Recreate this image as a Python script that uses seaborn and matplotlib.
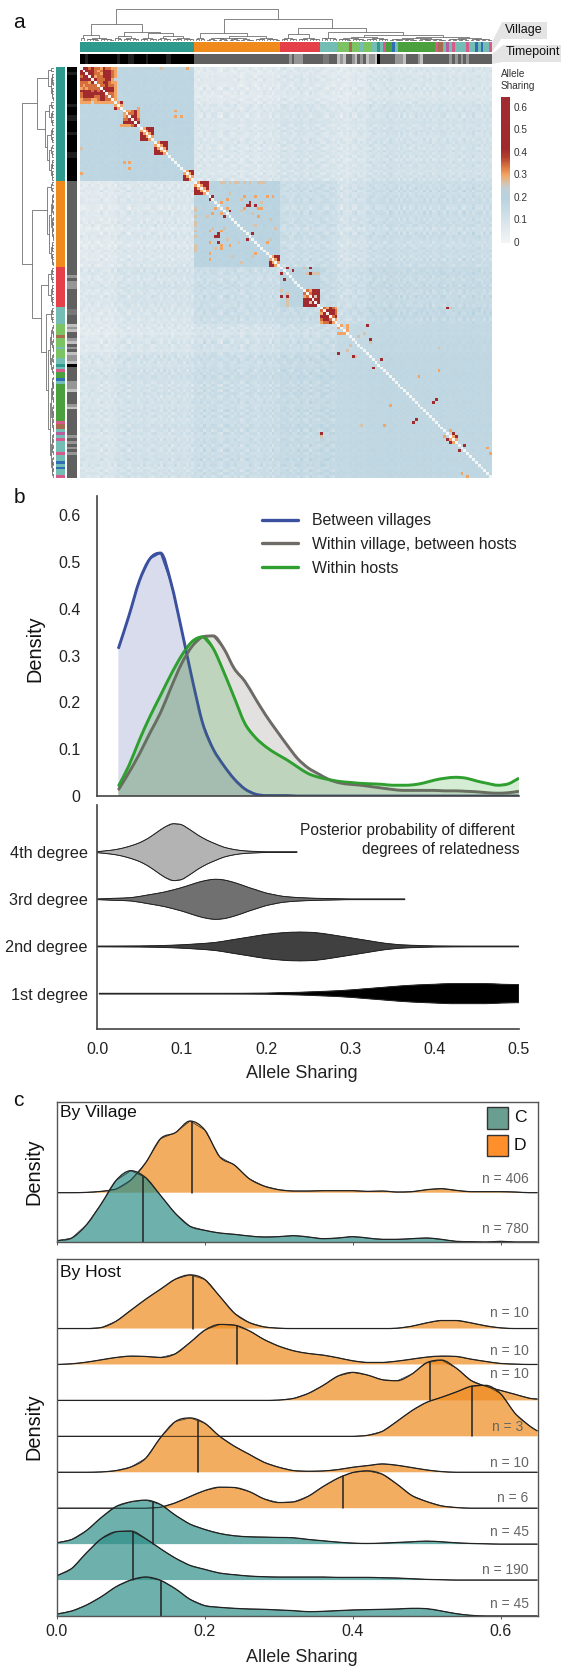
import numpy as np
import matplotlib
matplotlib.use("Agg")
import matplotlib.pyplot as plt
from matplotlib.colors import LinearSegmentedColormap, ListedColormap
from matplotlib.lines import Line2D
from matplotlib.patches import PathPatch, Polygon, Rectangle
from matplotlib.path import Path
import seaborn as sns

# ---------- panel a data ----------
village_palette = ["#2E9A8E", "#F08A1D", "#E5404A", "#74BDB5", "#7CC364", "#A86A50",
                   "#D65A8C", "#4AA03C", "#2F6DB5", "#B85E9E"]
village_codes = [0, 1, 2, 3, 4, 5, 4, 3, 4, 3, 0, 3, 6, 7, 8, 3, 7, 6, 5, 3, 9, 3, 6, 3, 6, 3, 8, 3, 8, 3, 6]
village_counts = [40, 30, 14, 6, 4, 1, 3, 1, 3, 2, 1, 1, 1, 2, 1, 1, 13, 1, 2, 1, 1, 1, 1, 4, 1, 2, 1, 1, 1, 2, 1]
time_palette = ["#000000", "#606060", "#969696", "#C0C0C0", "#1E1E1E", "#787878"]
time_codes = [0, 4, 0, 4, 0, 4, 0, 4, 0, 4, 0,
              1, 2, 1, 2, 1, 5, 1, 3, 2, 3, 1, 2, 3, 1, 2, 1, 3, 2, 3, 0, 1, 2, 3, 1, 2, 3, 1, 2, 1, 2, 1, 2, 1, 2, 1]
time_counts = [2, 1, 10, 1, 3, 2, 4, 1, 6, 2, 8,
               33, 1, 1, 3, 7, 2, 3, 1, 1, 1, 2, 1, 1, 1, 1, 1, 1, 2, 1, 1, 5, 3, 1, 4, 1, 1, 9, 1, 1, 1, 1, 1, 1, 1, 8]
group_sizes = [40, 30, 14, 6, 54]
group_level = [[.190, .095, .110, .100, .120],
               [.095, .190, .130, .130, .130],
               [.110, .130, .185, .140, .145],
               [.100, .130, .140, .200, .155],
               [.120, .130, .145, .155, .170]]
sample_shift = [-5, -5, -6, -5, -4, -5, -6, -5, -4, -5, -6, -5, -4,
                -2, -3, -1, -2, -3, -2, -1, -3, -2, -1, -2, -3, -2, -1, -2, -3, -1, -2, -2, -3, -1, -2, -1, -3, -2, -1, -2,
                0, -1, 0, 1, -1, 0, 0, 1, -1, -2, 0, 1, 0, -1, 0, 1, -2, -1, 0, 1, 0, -1, -2, 0, 1, 0, -1, 0, 1, 0,
                1, 0, 1, 0, -1, 0, 1, 2, 0, -1, 1, 0, 1, 0,
                1, 0, 0, 1, -1, 0,
                -4, -5, -4, -6, -3, -4, -2, -3, -2, -4,
                -1, 0, 1, 0, -1, 1, 0, 1, 2, 1, 0, -1, 1, 0, 1, -1, 0, 1, -1, 0,
                1, 0, 1, -1, 0, 1, 2, 0, 1, -1, 0, 1, 0, -1, 1, 0, 1, 2, 0, 1, -1, 0, 1, 0]
sample_grain = [1, -2, 0, 2, -1, 1, 2, -2, 0, 1, -1, 2,
                -2, 1, 2, 0, -1, -2, 1, 0, 2, -1, 1, -2,
                0, 2, -1, 1, -2, 2, 0, -1, 1, 2, -2, 0,
                1, -1, 2, -2, 0, 1, -2, 2, -1, 0, 2, 1,
                -1, -2, 1, 2, 0, -1, 2, -2, 1, 0, -2, 2,
                1, -1, 0, 2, -2, 1, -1, 2, 0, -2, 1, 2,
                -1, 0, -2, 1, 2, -1, 0, 2, -2, 1, -1, 0,
                2, 1, -2, 0, 1, -1, 2, -2, 0, 1, 2, -1,
                -2, 2, 0, 1, -1, 2, 1, -2, 0, -1, 2, 1,
                -2, 0, 2, -1, 1, -2, 2, 0, -1, 1, 0, 2,
                -1, 1, -2, 2, 0, -1, 1, 2, -2, 0, 1, -1,
                2, 0, -2, 1, -1, 2, 0, 1, -2, 2, -1, 1]
sample_grain_b = [2, 0, -1, 1, -2, 0, 1, 2, -1, -2, 0, 1,
                  -1, 2, 0, -2, 1, 2, -1, 0, 1, -2, 2, 0,
                  1, -1, -2, 2, 0, 1, -1, 2, -2, 1, 0, -1,
                  2, -2, 0, 1, -1, 2, 1, -2, 0, 2, -1, 0,
                  1, 2, -2, -1, 0, 2, 1, -1, -2, 0, 2, 1,
                  0, -2, 2, 1, -1, 0, 2, -2, 1, -1, 0, 2,
                  1, -2, 0, 2, -1, 1, -2, 0, 2, 1, -1, -2,
                  0, 2, 1, -1, -2, 0, 1, 2, -2, 0, -1, 1,
                  2, -1, -2, 0, 1, 2, -2, -1, 1, 0, 2, -2,
                  1, 0, -1, 2, -2, 1, 0, 2, -1, -2, 1, 0,
                  2, -2, 1, 0, -1, 2, 0, -2, 1, -1, 2, 0,
                  -2, 1, 2, -1, 0, -2, 1, 2, 0, -1, 1, -2]
solid_clusters = [(12, 3), (21, 5), (26, 5), (36, 4), (40, 5), (66, 4)]
patterned_clusters = {
    0: ["wrrmrmmormmoo", ".wrrrmomrrrmo", "..wrrmmorrrmo", "...wrommrrrmo", "....wrmmmrro", ".....wmmrrmoo",
        "......wmmrmmo", ".......wrrrro", "........wrrro", ".........wmmo", "..........wmo", "...........wo", "............w"],
    14: ["w.....o", ".woomro", "..wmmro", "...wrro", "....wrm", ".....wr", "......w"],
    78: ["wmorrr", ".wmrrr", "..wrrr", "...wrr", "....wr", ".....w"],
    84: ["wmormo", ".wrrrm", "..wrrm", "...wmr", "....wo", ".....w"],
}
red_pairs = [(45, 46), (47, 59), (48, 58), (48, 59), (48, 61), (50, 52), (58, 60), (70, 72), (71, 74), (70, 80), (72, 80),
             (80, 70), (80, 72), (84, 128), (90, 100), (95, 101), (102, 105), (116, 124), (117, 123), (128, 130),
             (129, 131), (132, 134)]
orange_pairs = [(0, 37), (15, 33), (17, 33), (17, 35), (33, 15), (35, 17), (46, 51), (47, 49), (45, 57), (45, 61), (45, 65),
                (45, 67), (49, 57), (49, 62), (49, 51), (49, 63), (61, 65), (52, 62), (90, 91), (90, 93), (91, 93), (92, 93),
                (106, 125), (108, 118), (127, 129), (129, 130), (130, 131), (133, 142), (135, 143)]
tan_pairs = [(28, 0), (40, 49), (40, 55), (40, 62), (40, 63), (40, 64), (40, 50), (40, 52), (40, 54), (40, 57), (40, 59),
             (44, 52), (46, 56), (47, 63), (50, 56), (51, 60), (53, 66), (55, 61), (56, 68), (60, 66), (72, 79), (72, 81),
             (72, 82), (72, 83), (80, 82), (70, 78), (94, 97), (96, 101), (93, 99), (98, 125), (84, 129)]
cbar_stops = [(0, "#F3F4F4"), (.10, "#D5E3EA"), (.20, "#B7D2DF"), (.24, "#BFD0D8"), (.27, "#DDBFA0"), (.30, "#F2A565"),
              (.34, "#D9743F"), (.38, "#B2402F"), (.42, "#A0292D"), (.65, "#A02C32")]
cbar_ticks = [0, .1, .2, .3, .4, .5, .6]
cbar_labels = ["0", "0.1", "0.2", "0.3", "0.4", "0.5", "0.6"]

# ---------- panel b data ----------
b_x = [.025, .0375, .05, .0625, .075, .0875, .10, .1125, .125, .1375, .15, .1625, .175, .1875, .20, .2125, .225, .2375,
       .25, .2625, .275, .2875, .30, .3125, .325, .3375, .35, .3625, .375, .3875, .40, .4125, .425, .4375, .45, .4625,
       .475, .4875, .50]
b_between = [.315, .385, .46, .507, .519, .455, .355, .25, .155, .10, .065, .036, .015, .004, .001, .001, .001, 0, 0, 0, 0, 0,
             0, 0, 0, 0, 0, 0, 0, 0, 0, 0, 0, 0, 0, 0, 0, 0, 0]
b_within_village = [.013, .05, .09, .135, .178, .232, .283, .32, .34, .342, .315, .272, .245, .208, .172, .14, .109, .08,
                    .06, .047, .035, .028, .025, .023, .02, .017, .014, .012, .012, .012, .012, .011, .011, .01, .009, .007,
                    .006, .007, .01]
b_within_host = [.021, .065, .12, .17, .215, .26, .30, .33, .34, .315, .265, .21, .155, .125, .105, .09, .077, .062,
                 .048, .04, .035, .031, .029, .027, .026, .025, .023, .023, .024, .028, .034, .038, .04, .038, .032, .027,
                 .023, .026, .038]
b_names = ["Between villages", "Within village, between hosts", "Within hosts"]
b_colors = ["#3C50A0", "#6E6A66", "#2FA02F"]
degree_names = ["4th degree", "3rd degree", "2nd degree", "1st degree"]
degree_colors = ["#B3B3B3", "#707070", "#404040", "#000000"]
deg4_x = [0, .01, .02, .03, .04, .05, .06, .07, .08, .09, .10, .11, .12, .13, .14, .15, .16, .17, .18, .19, .20, .237]
deg4_w = [1.5, 4, 7, 12, 19, 28, 41, 58, 75, 85, 82, 67, 50, 36, 25, 15, 9, 5, 3, 2, 1, 1]
deg3_x = [0, .02, .04, .06, .08, .10, .11, .12, .13, .14, .15, .16, .17, .18, .19, .20, .22, .24, .26, .28, .30, .365]
deg3_w = [1, 3, 5, 13, 22, 35, 43, 51, 57, 60, 58, 52, 44, 35, 27, 19, 9, 5, 3, 2, 1, 1]
deg2_x = [0, .05, .08, .10, .12, .14, .16, .18, .20, .22, .24, .26, .28, .30, .32, .34, .36, .38, .40, .44, .50]
deg2_w = [1, 1.5, 3, 5, 8, 12, 20, 28, 36, 41, 43, 41, 34, 26, 18, 10, 5, 3, 1.5, 1, 1]
deg1_x = [.002, .15, .20, .22, .24, .26, .28, .30, .32, .34, .36, .38, .40, .42, .44, .46, .48, .50]
deg1_w = [1, 1, 1.5, 3, 4, 6, 8, 11, 15, 19, 23, 26, 28, 30, 30, 30, 28, 27]

# ---------- panel c data ----------
ridge_x = [0, .02, .04, .06, .08, .10, .12, .14, .16, .18, .20, .22, .24, .26, .28, .30, .32, .34, .36, .38, .40, .42, .44,
           .46, .48, .50, .52, .54, .56, .58, .60, .62, .64, .65]
village_D = [0, 0, 1, 4, 11, 38, 90, 162, 180, 215, 188, 108, 83, 42, 20, 9, 5, 5, 6, 6, 6, 4, 5, 2, 3, 9, 12, 7, 3, 3, 3, 2, 0, 0]
village_C = [4, 12, 52, 115, 185, 214, 193, 140, 86, 47, 35, 27, 23, 18, 15, 16, 19, 15, 10, 12, 16, 12, 8, 8, 10, 12, 8, 2, 1, 0, 2, 0, 0, 0]
village_medians = [.183, .117]
village_n = ["n = 406", "n = 780"]
host_curves = [
    [0, 0, 0, 3, 22, 55, 88, 118, 148, 161, 147, 97, 46, 18, 5, 1, 0, 0, 0, 0, 0, 0, 0, 1, 7, 17, 24, 24, 17, 8, 2, 0, 0, 0],
    [0, 2, 7, 14, 21, 25, 24, 21, 32, 66, 103, 120, 118, 101, 75, 55, 41, 33, 28, 20, 11, 6, 6, 10, 16, 22, 25, 24, 16, 9, 3, 1, 0, 0],
    [0, 0, 0, 0, 0, 0, 0, 0, 0, 0, 0, 0, 0, 0, 0, 1, 6, 21, 45, 73, 84, 76, 62, 59, 79, 113, 121, 97, 60, 42, 30, 18, 6, 4],
    [0, 0, 0, 0, 0, 0, 0, 0, 0, 0, 0, 0, 0, 0, 0, 0, 0, 0, 0, 0, 0, 3, 15, 45, 77, 102, 117, 133, 150, 153, 128, 68, 30, 16],
    [0, 0, 0, 1, 5, 16, 42, 104, 152, 163, 147, 108, 78, 54, 30, 15, 5, 3, 4, 8, 15, 20, 25, 21, 14, 7, 2, 0, 0, 0, 0, 0, 0, 0],
    [0, 0, 0, 0, 0, 0, 0, 3, 16, 35, 53, 63, 62, 50, 28, 17, 19, 36, 65, 90, 107, 112, 102, 72, 38, 20, 7, 2, 0, 0, 0, 0, 0, 0],
    [4, 14, 41, 80, 113, 127, 132, 119, 87, 60, 44, 32, 25, 22, 21, 20, 19, 14, 10, 6, 3, 2, 3, 5, 7, 9, 7, 4, 2, 1, 0, 0, 0, 0],
    [13, 35, 82, 124, 145, 147, 124, 94, 66, 44, 32, 21, 16, 12, 10, 9, 9, 9, 9, 8, 8, 8, 7, 6, 4, 2, 1, 0, 0, 0, 0, 0, 0, 0],
    [6, 15, 33, 58, 88, 108, 117, 107, 82, 50, 31, 26, 23, 21, 20, 18, 16, 13, 14, 16, 18, 19, 20, 21, 23, 22, 15, 7, 2, 0, 0, 0, 0, 0],
]
host_species = ["D", "D", "D", "D", "D", "D", "C", "C", "C"]
host_medians = [.184, .243, .505, .562, .191, .387, .13, .103, .141]
host_n = ["n = 10", "n = 10", "n = 10", "n = 3", "n = 10", "n = 6", "n = 45", "n = 190", "n = 45"]
host_n_ypx = [1313, 1351, 1373.7, 1427, 1462.7, 1498, 1532, 1570, 1604]
species_colors = {"C": "#2F8F89", "D": "#EE8A1D"}

# ---------- layout ----------
sns.set_theme(style="white")
plt.rcParams["font.family"] = ["Liberation Sans", "DejaVu Sans"]
W, H = 563, 1666
fig = plt.figure(figsize=(W / 100, H / 100), dpi=100, facecolor="white")


def box(x0, y0, x1, y1, **kw):
    return fig.add_axes([x0 / W, 1 - y1 / H, (x1 - x0) / W, (y1 - y0) / H], **kw)


def bare(ax):
    ax.set_xticks([]); ax.set_yticks([]); ax.set_xlabel(""); ax.set_ylabel("")
    for s in ax.spines.values():
        s.set_visible(False)
    ax.patch.set_alpha(0)


overlay = box(0, 0, W, H)
overlay.set_xlim(0, W); overlay.set_ylim(H, 0); bare(overlay)


def label(x, y, s, size, **kw):
    kw.setdefault("va", "center"); kw.setdefault("ha", "left"); kw.setdefault("color", "#111111")
    overlay.text(x, y, s, fontsize=size, **kw)


def curve_segments(x, y):
    """Bezier handles through the read points, with no overshoot past them."""
    x, y = np.asarray(x, float), np.asarray(y, float)
    dx = np.diff(x); d = np.diff(y) / dx
    m = np.zeros_like(y)
    m[0], m[-1] = d[0], d[-1]
    for i in range(1, len(y) - 1):
        if d[i - 1] * d[i] > 0:
            m[i] = np.sign(d[i]) * min(abs((y[i + 1] - y[i - 1]) / (x[i + 1] - x[i - 1])),
                                       3 * min(abs(d[i - 1]), abs(d[i])))
    verts = []
    for i in range(len(x) - 1):
        verts += [(x[i] + dx[i] / 3, y[i] + m[i] * dx[i] / 3),
                  (x[i + 1] - dx[i] / 3, y[i + 1] - m[i + 1] * dx[i] / 3),
                  (x[i + 1], y[i + 1])]
    return verts


def curve_path(x, y):
    verts = [(x[0], y[0])] + curve_segments(x, y)
    return Path(verts, [Path.MOVETO] + [Path.CURVE4] * (len(verts) - 1))


def area_path(x, top, bottom):
    x = list(x); rx = x[::-1]
    top = list(top); rb = list(bottom)[::-1]
    verts = [(x[0], top[0])] + curve_segments(x, top) + [(rx[0], rb[0])] + curve_segments(rx, rb) + [(x[0], top[0])]
    codes = [Path.MOVETO] + [Path.CURVE4] * (3 * (len(x) - 1)) + [Path.LINETO] + [Path.CURVE4] * (3 * (len(x) - 1)) + [Path.LINETO]
    return Path(verts, codes)


def draw_curve(ax, x, y, color, lw):
    # the read points go through seaborn; the stroke over them rounds the joins
    sns.lineplot(x=list(x), y=list(y), ax=ax, color=color, lw=lw * .5, sort=False, errorbar=None, legend=False)
    ax.add_patch(PathPatch(curve_path(list(x), list(y)), fc="none", ec=color, lw=lw, capstyle="butt"))


# ---------- panel a ----------
N = 144
hm_x0, hm_x1, hm_y0, hm_y1 = 79.7, 492, 66.7, 478
village = np.repeat(village_codes, village_counts)
timepoint = np.repeat(time_codes, time_counts)
groups = np.repeat(np.arange(len(group_sizes)), group_sizes)
shift = np.array(sample_shift, float)
grain = np.array(sample_grain, float)
grain_b = np.array(sample_grain_b, float)
levels = np.array(group_level)[groups][:, groups]
same = groups[:, None] == groups[None, :]
texture = np.outer(grain, grain_b) + np.outer(grain_b, grain)
M = levels + .0065 * (shift[:, None] + shift[None, :]) * np.where(same, .3, 1) + .0055 * texture * np.where(same, .2, 1)
M = np.clip(M, .02, .24)
tone = {"w": .03, "o": .30, "m": .345, "r": .47, "t": .265}
for start, size in solid_clusters:
    M[start:start + size, start:start + size] = tone["r"]
    for k in range(size - 1):
        M[start + k, start + k + 1] = M[start + k + 1, start + k] = tone["o"]
for start, rows in patterned_clusters.items():
    for i, row in enumerate(rows):
        for j, ch in enumerate(row[:len(rows)]):
            if ch != ".":
                M[start + i, start + j] = M[start + j, start + i] = tone[ch]
for pairs, key in ((tan_pairs, "t"), (orange_pairs, "o"), (red_pairs, "r")):
    for i, j in pairs:
        M[i, j] = M[j, i] = tone[key]
M[np.arange(N), np.arange(N)] = 0

cmap = LinearSegmentedColormap.from_list("share", [(v / .65, c) for v, c in cbar_stops])
ax_hm = box(hm_x0, hm_y0, hm_x1, hm_y1)
sns.heatmap(M, ax=ax_hm, cmap=cmap, vmin=0, vmax=.65, cbar=False, xticklabels=False, yticklabels=False)
vill_cm, time_cm = ListedColormap(village_palette), ListedColormap(time_palette)
for pos, codes, cm, n in (((hm_x0, 42.3, hm_x1, 52.3), village, vill_cm, 9), ((hm_x0, 54, hm_x1, 64), timepoint, time_cm, 5)):
    sns.heatmap(codes[None, :], ax=box(*pos), cmap=cm, vmin=-.5, vmax=n + .5, cbar=False, xticklabels=False, yticklabels=False)
for pos, codes, cm, n in (((55.6, hm_y0, 65.3, hm_y1), village, vill_cm, 9), ((67, hm_y0, 76.8, hm_y1), timepoint, time_cm, 5)):
    sns.heatmap(codes[:, None], ax=box(*pos), cmap=cm, vmin=-.5, vmax=n + .5, cbar=False, xticklabels=False, yticklabels=False)


def C(n, h):
    if n == 1:
        return 1
    a = n // 2
    return (h, C(a, h * .72), C(n - a, h * .72))


dendro = (100,
          (52.6,
           (18, C(2, 8), C(10, 9)),
           (28, (16, C(3, 8), C(6, 9)), (23, C(6, 9), (16, C(5, 9), C(8, 9))))),
          (68,
           (23, C(4, 9), (15, C(17, 10), C(9, 9))),
           (41,
            (20, C(6, 9), C(8, 9)),
            (26, C(6, 10), (18, (12, C(10, 8), C(8, 8)), (13, C(20, 9), C(16, 9)))))))
segments = []


def walk(node, left):
    if isinstance(node, int):
        return left + .5, 0, left + node
    h, a, b = node
    xa, ha, next_left = walk(a, left)
    xb, hb, end = walk(b, next_left)
    segments.append(((xa, xa, xb, xb), (ha, h, h, hb)))
    return (xa + xb) / 2, h, end


walk(dendro, 0)
ax_top = box(hm_x0, 9, hm_x1, 40.7)
ax_left = box(21.5, hm_y0, 54, hm_y1)
for xs, hs in segments:
    ax_top.plot(xs, hs, color="#707070", lw=.6)
    ax_left.plot(hs, xs, color="#707070", lw=.6)
ax_top.set_xlim(0, N); ax_top.set_ylim(0, 100); bare(ax_top)
ax_left.set_ylim(N, 0); ax_left.set_xlim(100, 0); bare(ax_left)

ax_cb = box(501, 96.5, 510, 242.7)
levels_cb = np.linspace(.65, 0, 200)[:, None]
sns.heatmap(levels_cb, ax=ax_cb, cmap=cmap, vmin=0, vmax=.65, cbar=False, xticklabels=False, yticklabels=False)
for v, s in zip(cbar_ticks, cbar_labels):
    label(514, 242.7 - v / .65 * 146.2, s, 7.2, color="#333333")
label(501, 74, "Allele", 7.2, color="#333333")
label(501, 85.7, "Sharing", 7.2, color="#333333")

overlay.add_patch(Polygon([(492, 42), (502, 22), (502, 38), (492, 52)], fc="#E4E4E4", ec="none", zorder=0))
overlay.add_patch(Polygon([(492, 54), (503, 45), (503, 62), (492, 64)], fc="#E4E4E4", ec="none", zorder=0))
overlay.add_patch(Rectangle((502, 22), 44.5, 16.5, fc="#E4E4E4", ec="none", zorder=0))
overlay.add_patch(Rectangle((503, 45), 58, 16.7, fc="#E4E4E4", ec="none", zorder=0))
label(524, 30, "Village", 9, ha="center")
label(533, 52, "Timepoint", 9, ha="center")
label(13.5, 22, "a", 15)

# ---------- panel b ----------
ax_b = box(97.3, 495.7, 518.9, 796)
for ys, col in zip((b_between, b_within_village, b_within_host), b_colors):
    ax_b.add_patch(PathPatch(area_path(b_x, ys, [0] * len(ys)), fc=col, ec="none", alpha=.2))
    draw_curve(ax_b, b_x, ys, col, 2.1)
ax_b.set_xlim(0, .5); ax_b.set_ylim(0, .6415)
ax_b.set_xticks([]); ax_b.set_yticks([0, .1, .2, .3, .4, .5, .6])
ax_b.set_yticklabels(["0", "0.1", "0.2", "0.3", "0.4", "0.5", "0.6"], fontsize=11.5, color="#222222")
ax_b.tick_params(axis="y", length=0, pad=12)
ax_b.set_xlabel(""); ax_b.set_ylabel("")
sns.despine(ax=ax_b)
for s in ("left", "bottom"):
    ax_b.spines[s].set_color("#444444"); ax_b.spines[s].set_linewidth(1.2)
handles = [Line2D([0], [0], color=c, lw=2.4) for c in b_colors]
ax_b.legend(handles, b_names, loc="upper left", bbox_to_anchor=(.372, .968), frameon=False, fontsize=11.4, labelspacing=.55,
            handlelength=2.3, handletextpad=.85, borderpad=0, labelcolor="#222222")
label(35, 649, "Density", 14.3, rotation=90, ha="center")
label(13.5, 497, "b", 15)

ax_v = box(97.3, 805, 518.9, 1029)
for k, (xs, ws, col) in enumerate(zip((deg4_x, deg3_x, deg2_x, deg1_x), (deg4_w, deg3_w, deg2_w, deg1_w), degree_colors)):
    half = np.array(ws) / 141
    ax_v.add_patch(PathPatch(area_path(xs, k - half, k + half), fc=col, ec="none"))
    draw_curve(ax_v, xs, k - half, "#222222", .7)
    draw_curve(ax_v, xs, k + half, "#222222", .7)
ax_v.set_xlim(0, .5); ax_v.set_ylim(3.75, -1)
ax_v.set_xticks([0, .1, .2, .3, .4, .5]); ax_v.set_xticklabels(["0.0", "0.1", "0.2", "0.3", "0.4", "0.5"], fontsize=11.5, color="#222222")
ax_v.set_yticks(range(4)); ax_v.set_yticklabels(degree_names, fontsize=11.7, color="#222222")
ax_v.tick_params(axis="x", length=0, pad=9); ax_v.tick_params(axis="y", length=0, pad=7)
ax_v.set_xlabel(""); ax_v.set_ylabel("")
sns.despine(ax=ax_v)
for s in ("left", "bottom"):
    ax_v.spines[s].set_color("#444444"); ax_v.spines[s].set_linewidth(1.2)
label(515, 830, "Posterior probability of different", 11.2, ha="right", color="#222222")
label(519, 849, "degrees of relatedness", 11.2, ha="right", color="#222222")
label(301.6, 1073, "Allele Sharing", 13, ha="center", color="#222222")
label(13.5, 1100, "c", 15)


# ---------- panel c ----------
def ridge(ax, ys, base, col, median):
    ys = np.array(ys, float)
    ax.add_patch(PathPatch(area_path(ridge_x, base + ys, [base] * len(ys)), fc=col, ec="none", alpha=.7))
    draw_curve(ax, ridge_x, base + ys, "#222222", .9)
    ax.plot([median, median], [base, base + np.interp(median, ridge_x, ys)], color="#222222", lw=1.1)


ax_c1 = box(57, 1102, 537.5, 1242)
ridge(ax_c1, village_D, 147.9, species_colors["D"], village_medians[0])
ridge(ax_c1, village_C, 0, species_colors["C"], village_medians[1])
ax_c1.set_xlim(0, .65); ax_c1.set_ylim(0, 420)
ax_c1.set_xticks([0, .2, .4, .6]); ax_c1.set_xticklabels([]); ax_c1.set_yticks([])
ax_c1.tick_params(axis="x", length=2.5, width=.7, color="#555555", bottom=True)

ax_c2 = box(57, 1259, 537.5, 1616)
n_host = len(host_curves)
for k, (ys, sp, med) in enumerate(zip(host_curves, host_species, host_medians)):
    ridge(ax_c2, ys, (n_host - 1 - k) * 107.8, species_colors[sp], med)
ax_c2.set_xlim(0, .65); ax_c2.set_ylim(0, 1071)
ax_c2.set_xticks([0, .2, .4, .6]); ax_c2.set_xticklabels(["0.0", "0.2", "0.4", "0.6"], fontsize=11.5, color="#222222")
ax_c2.set_yticks([])
ax_c2.tick_params(axis="x", length=2.5, width=.7, color="#555555", bottom=True, pad=3.5)
for ax in (ax_c1, ax_c2):
    ax.set_xlabel(""); ax.set_ylabel("")
    for s in ax.spines.values():
        s.set_color("#555555"); s.set_linewidth(1)

overlay.set_zorder(10)
overlay.add_patch(Rectangle((487, 1107), 21, 21.7, fc="#6A9E91", ec="#333333", lw=1))
overlay.add_patch(Rectangle((487, 1135), 21, 21, fc="#FF8F2B", ec="#333333", lw=1))
label(514, 1117.5, "C", 12.6)
label(514, 1146, "D", 12.6)
label(60, 1113, "By Village", 12.6)
label(60, 1272.7, "By Host", 12.6)
for s, y in zip(village_n, (1178.7, 1228.7)):
    label(528.5, y, s, 10, ha="right", color="#666666")
for s, y in zip(host_n, host_n_ypx):
    label(523 if s == "n = 3" else 528.5, y, s, 10, ha="right", color="#666666")
label(34, 1172, "Density", 14.3, rotation=90, ha="center")
label(34, 1427, "Density", 14.3, rotation=90, ha="center")
label(301.6, 1657, "Allele Sharing", 13, ha="center", color="#222222")

fig.savefig("out.png", dpi=100, facecolor="white")
